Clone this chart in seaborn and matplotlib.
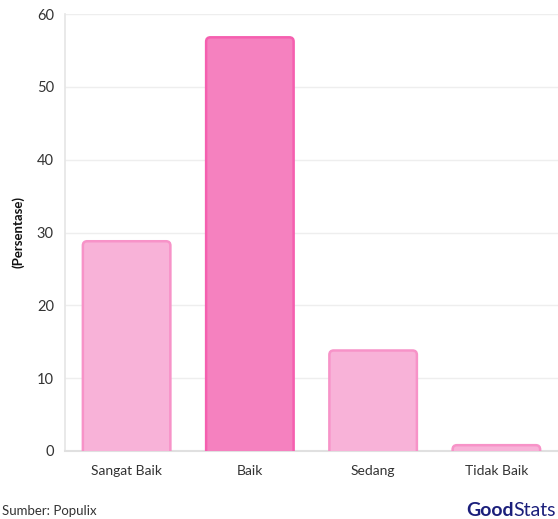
import matplotlib
matplotlib.use("Agg")
import matplotlib.pyplot as plt
import seaborn as sns
import pandas as pd
from matplotlib.patches import FancyBboxPatch

categories = ["Sangat Baik", "Baik", "Sedang", "Tidak Baik"]
values = [28.8, 56.8, 13.8, 0.8]
fills = ["#F8B2D8", "#F581BF", "#F8B2D8", "#F8B2D8"]
edges = ["#F793C8", "#F55FAF", "#F793C8", "#F793C8"]

sns.set_theme(style="white")
plt.rcParams["font.family"] = ["Lato", "DejaVu Sans"]

df = pd.DataFrame({"cat": categories, "val": values})

fig = plt.figure(figsize=(5.58, 5.19), dpi=100)
ax = fig.add_axes([65/558, 1-451/519, 1-65/558, (451-14)/519])

sns.barplot(data=df, x="cat", y="val", ax=ax, width=0.71, color=fills[0])

xpx = 1/124.0
ypx = 10/72.8
for p, fc, ec in zip(list(ax.patches), fills, edges):
    x, y = p.get_x(), p.get_y()
    w, h = p.get_width(), p.get_height()
    p.set_visible(False)
    box = FancyBboxPatch((x, y - 1.0), w, h + 1.0,
                         boxstyle="round,pad=0,rounding_size=0.035",
                         mutation_aspect=ypx/xpx,
                         facecolor=fc, edgecolor=ec, linewidth=1.8, zorder=3)
    ax.add_patch(box)

ax.set_ylim(0, 60)
ax.set_xlim(-0.5, 3.5)
ax.set_yticks([0, 10, 20, 30, 40, 50, 60])
ax.yaxis.grid(True, color="#EEEEEE", linewidth=1)
ax.set_axisbelow(True)
for s in ["top", "right"]:
    ax.spines[s].set_visible(False)
ax.spines["left"].set_color("#E6E6E6")
ax.spines["bottom"].set_color("#E0E0E0")
ax.spines["bottom"].set_linewidth(1.5)
ax.tick_params(axis="y", length=6, color="#EEEEEE", labelsize=10.5, labelcolor="#333333", pad=2)
ax.tick_params(axis="x", length=0, labelsize=10, labelcolor="#333333", pad=10)
ax.set_xlabel("")
ax.set_ylabel("")

fig.text(18/558, 1-232/519, "(Persentase)", fontsize=9.5, fontweight="bold", color="#111111",
         rotation=90, va="center", ha="center")
fig.text(2/558, 1-511/519, "Sumber: Populix", fontsize=9.5, color="#333333", va="center", ha="left")
fig.text(466/558, 1-511/519, "Good", fontsize=14, fontweight="bold", color="#1B1F7B", va="center", ha="left")
fig.text(513/558, 1-511/519, "Stats", fontsize=14, color="#1B1F7B", va="center", ha="left")

fig.savefig("out.png", dpi=100)
